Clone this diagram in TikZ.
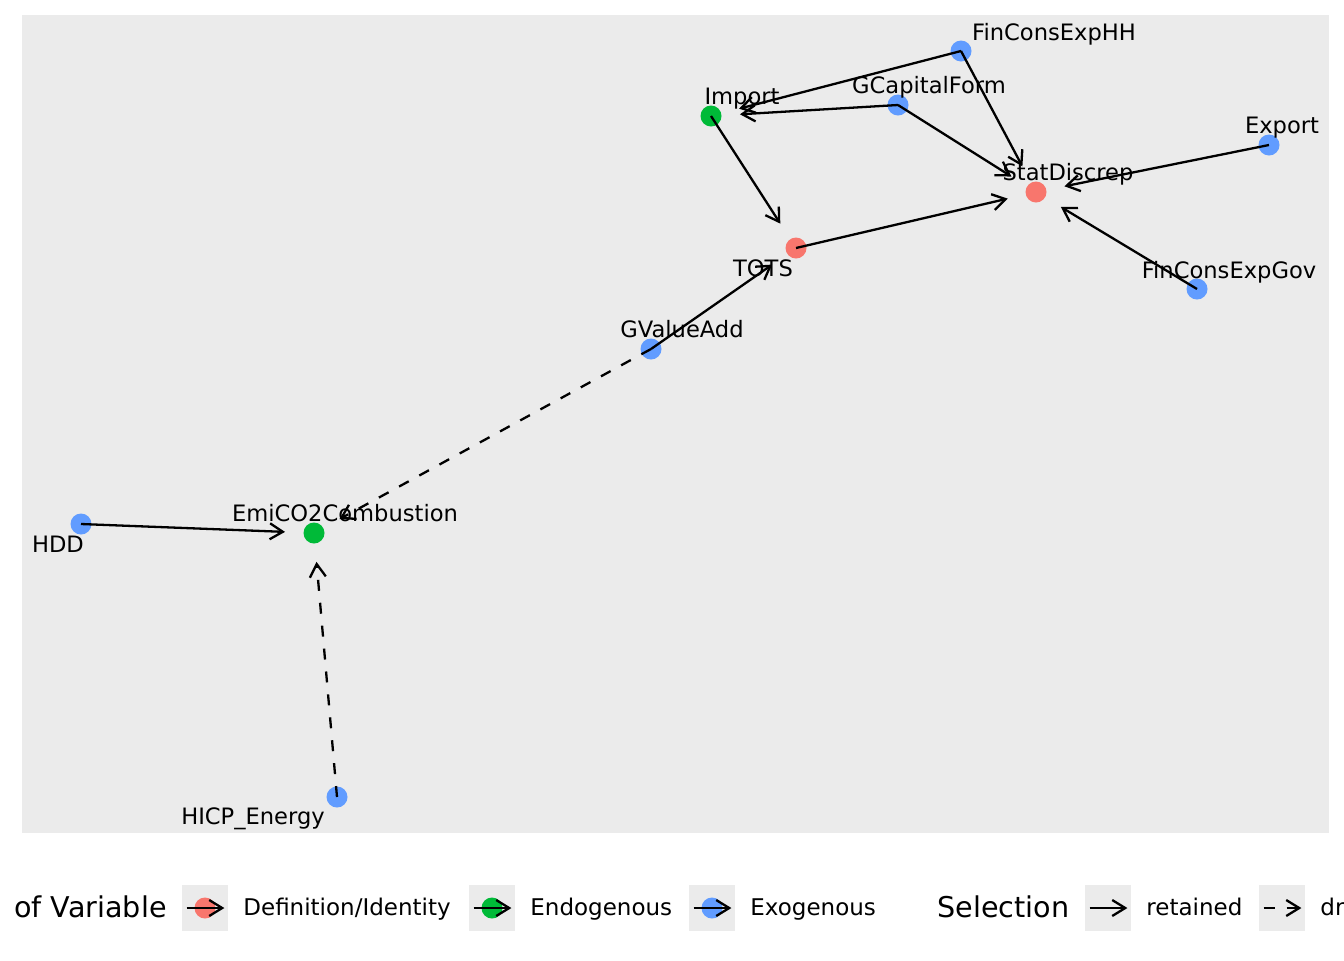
\documentclass[tikz,border=0pt]{standalone}
\usepackage{fontspec}
\setmainfont{DejaVu Sans}
\usepackage{tikz}
\usetikzlibrary{arrows.meta}
\definecolor{panelgrey}{HTML}{EBEBEB}
\definecolor{identityred}{HTML}{F8766D}
\definecolor{endogreen}{HTML}{00BA38}
\definecolor{exoblue}{HTML}{619CFF}
\tikzset{>={Straight Barb[length=6.5bp,width=8bp]}}
\tikzset{
  varpoint/.style={circle, inner sep=0pt, minimum size=10.5bp},
  varlabel/.style={anchor=base, inner sep=0pt, font=\fontsize{11.3bp}{13bp}\selectfont},
  link/.style={->, line width=1.15bp, shorten >=14.5bp},
  droplink/.style={link, dash pattern=on 5.5bp off 6bp},
  keybox/.style={fill=panelgrey, inner sep=0pt, minimum size=23bp},
  keytext/.style={anchor=base west, inner sep=0pt, font=\fontsize{11.5bp}{13bp}\selectfont},
  keytitle/.style={anchor=base west, inner sep=0pt, font=\fontsize{14.3bp}{16bp}\selectfont},
}

\begin{document}
\begin{tikzpicture}[x=0.5bp, y=-0.5bp]
            \useasboundingbox[fill=white] (0,0) rectangle (1344,960);
            \fill[panelgrey] (22,15) rectangle (1329,833);
            % variables
            \node[varpoint, fill=exoblue] (hh) at (961,51) {};
            \node[varpoint, fill=endogreen] (imp) at (711,116) {};
            \node[varpoint, fill=exoblue] (gcf) at (898,105) {};
            \node[varpoint, fill=exoblue] (exp) at (1269,145) {};
            \node[varpoint, fill=identityred] (sd) at (1036,192) {};
            \node[varpoint, fill=identityred] (tots) at (796,248) {};
            \node[varpoint, fill=exoblue] (gov) at (1197,289) {};
            \node[varpoint, fill=exoblue] (gva) at (651,349) {};
            \node[varpoint, fill=exoblue] (hdd) at (81,524) {};
            \node[varpoint, fill=endogreen] (emi) at (314,533) {};
            \node[varpoint, fill=exoblue] (hicp) at (337,797) {};
            % relations
            \draw[link] (hh.center) -- (imp.center);
            \draw[link] (gcf.center) -- (imp.center);
            \draw[link] (hh.center) -- (sd.center);
            \draw[link] (gcf.center) -- (sd.center);
            \draw[link] (imp.center) -- (tots.center);
            \draw[link] (tots.center) -- (sd.center);
            \draw[link] (exp.center) -- (sd.center);
            \draw[link] (gov.center) -- (sd.center);
            \draw[link] (gva.center) -- (tots.center);
            \draw[droplink] (gva.center) -- (emi.center);
            \draw[link] (hdd.center) -- (emi.center);
            \draw[droplink] (hicp.center) -- (emi.center);
            % names
            \node[varlabel] (hh-l) at (1054,40) {FinConsExpHH};
            \node[varlabel] (imp-l) at (742,104) {Import};
            \node[varlabel] (gcf-l) at (929,93) {GCapitalForm};
            \node[varlabel] (exp-l) at (1282,133) {Export};
            \node[varlabel] (sd-l) at (1068,180) {StatDiscrep};
            \node[varlabel] (tots-l) at (763,276) {TOTS};
            \node[varlabel] (gov-l) at (1229,278) {FinConsExpGov};
            \node[varlabel] (gva-l) at (682,337) {GValueAdd};
            \node[varlabel] (hdd-l) at (58,552) {HDD};
            \node[varlabel] (emi-l) at (345,521) {EmiCO2Combustion};
            \node[varlabel] (hicp-l) at (253,824) {HICP\_Energy};
            % legend
            \node[keytitle, anchor=base east] (typetitle) at (167,917) {of Variable};
            \node[keybox] (kdef) at (205,908) {};
            \node[varpoint, fill=identityred] (kdef-p) at (kdef) {};
            \draw[link, shorten >=2bp, shorten <=2.5bp] (kdef.west) -- (kdef.east);
            \node[keytext] (kdef-l) at (243,915) {Definition/Identity};
            \node[keybox] (kendo) at (492,908) {};
            \node[varpoint, fill=endogreen] (kendo-p) at (kendo) {};
            \draw[link, shorten >=2bp, shorten <=2.5bp] (kendo.west) -- (kendo.east);
            \node[keytext] (kendo-l) at (530,915) {Endogenous};
            \node[keybox] (kexo) at (712,908) {};
            \node[varpoint, fill=exoblue] (kexo-p) at (kexo) {};
            \draw[link, shorten >=2bp, shorten <=2.5bp] (kexo.west) -- (kexo.east);
            \node[keytext] (kexo-l) at (750,915) {Exogenous};
            \node[keytitle] (seltitle) at (937,917) {Selection};
            \node[keybox] (kret) at (1108,908) {};
            \draw[link, shorten >=2bp, shorten <=2.5bp] (kret.west) -- (kret.east);
            \node[keytext] (kret-l) at (1146,915) {retained};
            \node[keybox] (kdrop) at (1282,908) {};
            \draw[droplink, shorten >=2bp, shorten <=2.5bp] (kdrop.west) -- (kdrop.east);
            \node[keytext] (kdrop-l) at (1320,915) {dr};
        \end{tikzpicture}
\end{document}
